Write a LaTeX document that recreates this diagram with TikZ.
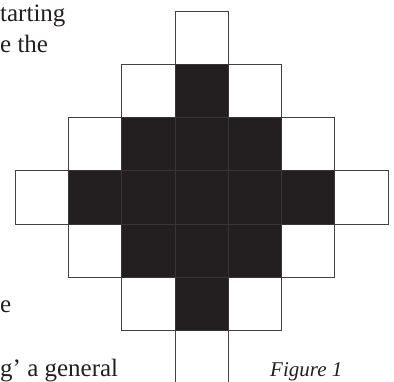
\documentclass[tikz,border=0pt]{standalone}
\usepackage{fontspec}
\setmainfont{Liberation Serif}
\usepackage{xcolor}
\definecolor{ink}{HTML}{231F20}
\usetikzlibrary{positioning}

\begin{document}
\begin{tikzpicture}[
    x=1pt, y=-1pt,
    cell/.style={rectangle, draw=ink!85, line width=0.8pt, minimum size=53.3pt, inner sep=0pt, fill=white},
    dark/.style={cell, fill=ink, draw=ink!90},
    prose/.style={anchor=base west, inner sep=0pt, text=ink, font=\fontsize{25}{30}\selectfont},
    caption/.style={anchor=base west, inner sep=0pt, text=ink, font=\fontsize{21}{25}\selectfont\itshape}
]
\useasboundingbox (0,0) rectangle (394,382);

% white squares round the edge
\foreach \i/\j in {3/0, 2/1, 4/1, 1/2, 5/2, 0/3, 6/3, 1/4, 5/4, 2/5, 4/5, 3/6}
    \node[cell] (sq-\i-\j) at ({41.65+53.3*\i}, {37.65+53.3*\j}) {};

% black squares in the middle
\foreach \i/\j in {3/1, 2/2, 3/2, 4/2, 1/3, 2/3, 3/3, 4/3, 5/3, 2/4, 3/4, 4/4, 3/5}
    \node[dark] (sq-\i-\j) at ({41.65+53.3*\i}, {37.65+53.3*\j}) {};

% running text at the left
\node[prose] (line1) at (0,22) {tarting};
\node[prose] (line2) at (0,53) {e the};
\node[prose] (line3) at (0,312.5) {e};
\node[prose] (line4) at (0,377) {g’ a general};

% caption
\node[caption] (fig) at (270,377) {Figure 1};

\end{tikzpicture}
\end{document}
